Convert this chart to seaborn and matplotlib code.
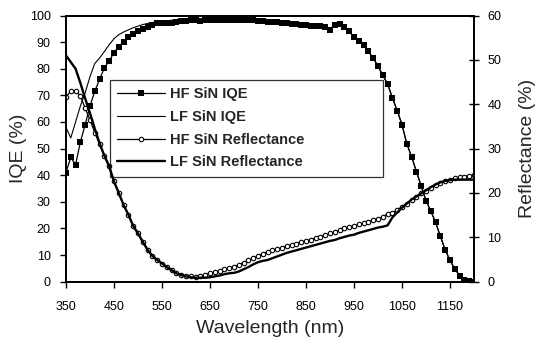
import numpy as np
import pandas as pd
import matplotlib
matplotlib.use("Agg")
import matplotlib.pyplot as plt
import seaborn as sns

# wavelength grid (nm), 10 nm steps
wavelength = list(range(350, 1201, 10))

hf_iqe = [41, 46.7, 43.9, 52.5, 59, 66, 71.5, 76, 80.3, 83,
          86, 88.3, 90.2, 91.8, 93.2, 94.2, 95, 95.8, 96.3, 97,
          97, 97, 97.2, 97.6, 97.8, 98, 98.4, 98.4, 98, 98.3,
          98.4, 98.4, 98.4, 98.4, 98.4, 98.4, 98.4, 98.4, 98.4, 98.4,
          97.8, 97.8, 97.6, 97.6, 97.4, 97.2, 97.0, 96.8, 96.7, 96.5,
          96.3, 96.2, 96.0, 95.9, 95.6, 94.7, 96.3, 96.8, 95.5, 94,
          92, 90.5, 88.8, 86.5, 84, 81, 77.5, 74.3, 69, 64.3,
          59, 51.8, 47, 41.4, 36, 30.5, 26.5, 22.3, 17, 12,
          8, 4.8, 2.3, 0.8, 0.1, 0]

lf_iqe = [58, 54, 60, 66, 71, 77, 82, 84, 86.5, 89,
          91.3, 92.8, 93.8, 94.6, 95.4, 96, 96.6, 97, 97.4, 97.6,
          97.8, 98, 98.2, 98.4, 98.4, 98.4, 98.4, 98.4, 98.4, 98.4,
          98.4, 98.4, 98.4, 98.4, 98.4, 98.4, 98.4, 98.4, 98.4, 98.4,
          98, 98, 97.8, 97.8, 97.6, 97.4, 97.2, 97, 96.9, 96.7,
          96.5, 96.4, 96.2, 96.1, 95.8, 95.2, 96.3, 96.8, 95.5, 94,
          92, 90.5, 88.8, 86.5, 84, 81, 77.5, 74.3, 69, 64.3,
          59, 51.8, 47, 41.4, 36, 30.5, 26.5, 22.3, 17, 12,
          8, 4.8, 2.3, 0.8, 0.1, 0]

hf_refl = [41.6, 43, 43, 41.9, 39.1, 36.5, 33.6, 31, 28.4, 26,
           22.6, 20, 17.3, 15.1, 12.6, 10.9, 9, 7.2, 5.8, 4.9,
           4.1, 3.3, 2.6, 1.9, 1.5, 1.3, 1.2, 1.1, 1.2, 1.5,
           1.9, 2.2, 2.4, 2.8, 3.1, 3.4, 3.8, 4.3, 4.8, 5.3,
           5.8, 6.3, 6.8, 7.1, 7.4, 7.7, 8.0, 8.3, 8.6, 8.9,
           9.2, 9.5, 9.8, 10.1, 10.5, 10.9, 11.2, 11.6, 12, 12.3,
           12.6, 12.9, 13.2, 13.5, 13.9, 14.2, 14.6, 15.3, 15.5, 16.2,
           16.9, 17.6, 18.4, 19.1, 19.9, 20.5, 21.1, 21.7, 22.3, 22.7,
           23, 23.3, 23.5, 23.7, 23.9, 24]

lf_refl = [51, 49.5, 48, 44.8, 41.3, 38, 34.5, 31.2, 28.4, 26,
           22.6, 20, 17.3, 15.1, 12.6, 10.9, 9, 7.2, 5.8, 4.9,
           4.1, 3.3, 2.6, 1.9, 1.5, 1.2, 1.0, 0.9, 0.9, 0.9,
           1.0, 1.2, 1.4, 1.7, 1.9, 2.0, 2.3, 2.8, 3.3, 3.9,
           4.4, 4.7, 4.9, 5.3, 5.7, 6.1, 6.5, 6.8, 7.1, 7.4,
           7.7, 8.0, 8.3, 8.6, 8.9, 9.2, 9.4, 9.8, 10.1, 10.4,
           10.6, 11, 11.3, 11.6, 11.9, 12.2, 12.4, 12.7, 14.5, 15.6,
           16.7, 17.6, 18.5, 19.2, 19.9, 20.6, 21.3, 21.9, 22.4, 22.7,
           22.9, 23.0, 23.0, 23.0, 23.0, 23.0]

x_ticks = [350, 450, 550, 650, 750, 850, 950, 1050, 1150]

df = pd.DataFrame({"wl": wavelength, "hf_iqe": hf_iqe, "lf_iqe": lf_iqe,
                   "hf_refl": hf_refl, "lf_refl": lf_refl})

sns.set_style("ticks")
plt.rcParams['font.family'] = ['Liberation Sans', 'DejaVu Sans']

fig = plt.figure(figsize=(5.39, 3.46), dpi=100)
ax = fig.add_axes([0.1224, 0.1858, 0.7570, 0.7694])
ax2 = ax.twinx()

sns.lineplot(data=df, x="wl", y="hf_iqe", ax=ax, color="black", lw=0.9,
             marker="s", markersize=4, markeredgewidth=0, label="HF SiN IQE")
sns.lineplot(data=df, x="wl", y="lf_iqe", ax=ax, color="black", lw=0.8,
             label="LF SiN IQE")
sns.lineplot(data=df, x="wl", y="hf_refl", ax=ax2, color="black", lw=0.9,
             marker="o", markersize=3.2, markerfacecolor="white",
             markeredgecolor="black", markeredgewidth=0.8,
             label="HF SiN Reflectance")
sns.lineplot(data=df, x="wl", y="lf_refl", ax=ax2, color="black", lw=1.7,
             label="LF SiN Reflectance")

ax.set_xlim(350, 1200)
ax.set_ylim(0, 100)
ax2.set_ylim(0, 60)
ax.set_xticks(x_ticks)
ax.set_yticks(range(0, 101, 10))
ax2.set_yticks(range(0, 61, 10))

for s in ax.spines.values():
    s.set_linewidth(1.3)
    s.set_color("black")
for s in ax2.spines.values():
    s.set_linewidth(1.3)
    s.set_color("black")

ax.tick_params(axis="x", direction="out", length=4, width=1, pad=10, labelsize=9, colors="black")
ax.tick_params(axis="y", direction="out", length=4, width=1, pad=7, labelsize=9, colors="black")
ax2.tick_params(axis="y", direction="inout", length=7, width=1, pad=6, labelsize=9, colors="black")

ax.set_xlabel("Wavelength (nm)", fontsize=14)
ax.set_ylabel("IQE (%)", fontsize=14)
ax2.set_ylabel("Reflectance (%)", fontsize=14)
ax.xaxis.set_label_coords(0.501, -0.145)
ax.yaxis.set_label_coords(-0.095, 0.5)
ax2.yaxis.set_label_coords(1.11, 0.5)

h1, l1 = ax.get_legend_handles_labels()
h2, l2 = ax2.get_legend_handles_labels()
ax.get_legend().remove()
leg = ax2.legend(h1 + h2, l1 + l2, loc="upper left",
                 bbox_to_anchor=(0.108, 0.397, 0.669, 0.361), mode="expand",
                 borderaxespad=0, fancybox=False, handlelength=3.3,
                 labelspacing=0.6, prop={"weight": "bold", "size": 10.5},
                 borderpad=0.5, handletextpad=0.3)
leg.get_frame().set_facecolor("none")
leg.get_frame().set_edgecolor("black")
leg.get_frame().set_linewidth(0.9)

fig.savefig("out.png", dpi=100)
